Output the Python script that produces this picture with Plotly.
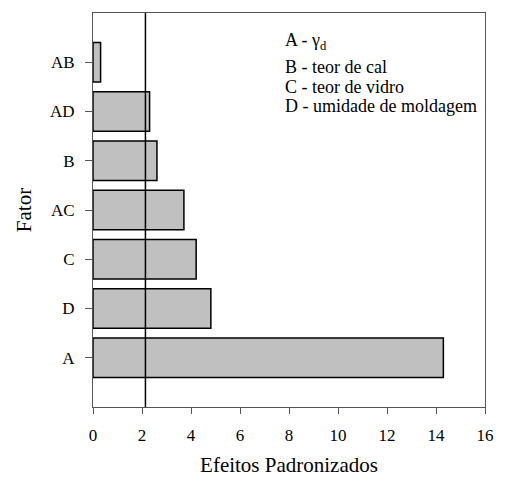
import plotly.graph_objects as go

# Standardized effects (Pareto chart), bottom to top
fatores = ["A", "D", "C", "AC", "B", "AD", "AB"]
efeitos = [14.30, 4.81, 4.21, 3.71, 2.61, 2.31, 0.31]
limite_t = 2.14  # critical t value (reference line)

x_ticks = [0, 2, 4, 6, 8, 10, 12, 14, 16]
legenda = [
    "A - γ<sub>d</sub>",
    "B - teor de cal",
    "C - teor de vidro",
    "D - umidade de moldagem",
]

FONT = "Liberation Serif"
AXIS_COLOR = "#555555"

fig = go.Figure()
fig.add_trace(go.Bar(
    x=efeitos,
    y=fatores,
    orientation="h",
    width=0.8,
    marker=dict(color="#c0c0c0", line=dict(color="black", width=1.5)),
    showlegend=False,
))

fig.add_shape(
    type="line", xref="x", yref="paper",
    x0=limite_t, x1=limite_t, y0=0, y1=1,
    line=dict(color="black", width=1.5),
)

legend_y = [0.928, 0.864, 0.813, 0.763]
for txt, yy in zip(legenda, legend_y):
    fig.add_annotation(
        text=txt, xref="paper", yref="paper",
        x=0.485, y=yy, xanchor="left", yanchor="middle",
        showarrow=False, font=dict(family=FONT, size=18, color="black"),
    )

fig.update_layout(
    width=506, height=484,
    margin=dict(l=93, r=17, t=12, b=74),
    plot_bgcolor="white", paper_bgcolor="white",
    font=dict(family=FONT, size=17, color="black"),
    bargap=0.2,
)
fig.update_xaxes(
    range=[0, 16], tickvals=x_ticks, ticks="outside", ticklen=6,
    tickcolor=AXIS_COLOR, showline=True, linecolor=AXIS_COLOR, linewidth=1,
    mirror=True, showgrid=False, zeroline=False, ticklabelstandoff=7,
    title=dict(text="Efeitos Padronizados",
               font=dict(family=FONT, size=21, color="black"), standoff=12),
    tickfont=dict(family=FONT, size=17, color="black"),
)
fig.update_yaxes(
    range=[-1, 7], ticks="outside", ticklen=7, tickcolor=AXIS_COLOR,
    showline=True, linecolor=AXIS_COLOR, linewidth=1, mirror=True,
    showgrid=False, zeroline=False, ticklabelstandoff=7,
    title=dict(text="Fator",
               font=dict(family=FONT, size=21, color="black"), standoff=12),
    tickfont=dict(family=FONT, size=17, color="black"),
)

fig.write_html("out.html")
